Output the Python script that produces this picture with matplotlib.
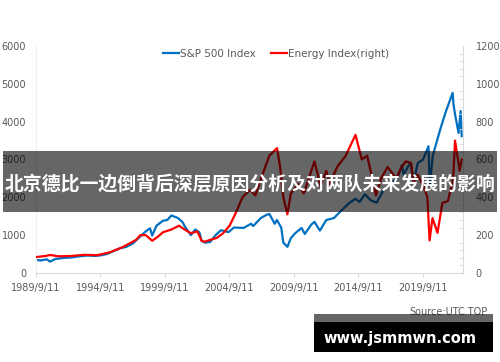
import pandas as pd
import matplotlib.pyplot as plt
from matplotlib.patches import Rectangle
from matplotlib.ticker import MultipleLocator

# S&P 500 (left axis)
spx_dates = ["1989-09-11", "1990-01-15", "1990-07-15", "1990-10-15", "1991-03-15", "1991-12-15",
             "1992-06-15", "1993-01-15", "1993-09-15", "1994-04-15", "1994-09-15", "1995-03-15",
             "1995-09-15", "1996-03-15", "1996-09-15", "1997-03-15", "1997-09-15", "1998-03-15",
             "1998-07-15", "1998-09-15", "1999-01-15", "1999-07-15", "1999-11-15", "2000-03-15",
             "2000-09-15", "2001-01-15", "2001-04-15", "2001-09-15", "2002-01-15", "2002-05-15",
             "2002-07-15", "2002-10-15", "2003-03-15", "2003-08-15", "2004-01-15", "2004-08-15",
             "2005-01-15", "2005-10-15", "2006-05-15", "2006-07-15", "2007-02-15", "2007-07-15",
             "2007-10-15", "2008-03-15", "2008-05-15", "2008-09-15", "2008-11-15", "2009-03-09",
             "2009-06-15", "2009-10-15", "2010-04-15", "2010-07-15", "2011-01-15", "2011-04-15",
             "2011-09-15", "2012-03-15", "2012-10-15", "2013-05-15", "2013-12-15", "2014-06-15",
             "2014-10-15", "2015-03-15", "2015-08-25", "2016-02-10", "2016-08-15", "2017-02-15",
             "2017-09-15", "2018-01-25", "2018-03-15", "2018-09-20", "2018-12-24", "2019-04-15",
             "2019-09-15", "2020-02-15", "2020-03-23", "2020-06-15", "2020-09-15", "2021-01-15",
             "2021-06-15", "2021-12-30", "2022-01-25", "2022-03-08", "2022-06-16", "2022-08-15",
             "2022-09-12"]
spx_vals = [345, 330, 360, 300, 370, 400,
            410, 440, 460, 450, 465, 500,
            580, 650, 690, 780, 940, 1100,
            1180, 990, 1250, 1380, 1400, 1520,
            1450, 1350, 1200, 1000, 1150, 1070,
            850, 800, 820, 1000, 1130, 1080,
            1200, 1190, 1300, 1240, 1450, 1530,
            1560, 1300, 1400, 1200, 800, 690,
            920, 1050, 1190, 1030, 1280, 1350,
            1120, 1400, 1450, 1650, 1840, 1960,
            1880, 2080, 1920, 1860, 2180, 2350,
            2500, 2850, 2600, 2920, 2400, 2900,
            3000, 3350, 2300, 3100, 3400, 3800,
            4250, 4760, 4450, 4200, 3700, 4280,
            3620]

# Energy index (right axis)
eng_dates = ["1989-09-11", "1990-06-15", "1990-10-15", "1991-06-15", "1992-06-15", "1993-06-15",
             "1994-06-15", "1995-06-15", "1996-06-15", "1997-06-15", "1997-10-15", "1998-03-15",
             "1998-09-15", "1999-03-15", "1999-07-15", "2000-03-15", "2000-10-15", "2001-03-15",
             "2001-09-15", "2002-03-15", "2002-07-15", "2002-10-15", "2003-03-15", "2003-09-15",
             "2004-03-15", "2004-09-15", "2005-03-15", "2005-09-15", "2006-04-15", "2006-09-15",
             "2007-03-15", "2007-10-15", "2008-05-20", "2008-08-15", "2008-11-15", "2009-03-09",
             "2009-06-15", "2010-01-15", "2010-06-15", "2011-04-15", "2011-10-04", "2012-03-15",
             "2012-06-15", "2013-01-15", "2013-09-15", "2014-06-20", "2014-12-15", "2015-05-15",
             "2015-09-15", "2016-01-20", "2016-06-15", "2016-12-15", "2017-08-15", "2018-01-15",
             "2018-05-15", "2018-10-15", "2018-12-24", "2019-04-15", "2019-10-15", "2020-01-15",
             "2020-03-18", "2020-06-08", "2020-10-28", "2021-03-15", "2021-08-20", "2022-01-15",
             "2022-03-08", "2022-06-08", "2022-07-15", "2022-09-12"]
eng_vals = [84, 90, 95, 88, 90, 96,
            94, 110, 138, 175, 200, 200,
            170, 195, 215, 230, 250, 230,
            210, 220, 170, 165, 175, 185,
            210, 250, 320, 400, 440, 410,
            510, 620, 660, 560, 400, 310,
            420, 470, 420, 590, 460, 540,
            470, 560, 620, 730, 600, 620,
            520, 410, 500, 560, 500, 560,
            590, 580, 470, 520, 450, 400,
            172, 290, 212, 370, 380, 500,
            700, 590, 540, 600]

tick_years = ["1989/9/11", "1994/9/11", "1999/9/11", "2004/9/11", "2009/9/11", "2014/9/11", "2019/9/11"]

title_cn = "北京德比一边倒背后深层原因分析及对两队未来发展的影响"
site = "www.jsmmwn.com"

grey = "#595959"
line_grey = "#D9D9D9"

fig = plt.figure(figsize=(5, 3.62), dpi=100)
ax = fig.add_axes([0.072, 0.246, 0.854, 0.627])
ax2 = ax.twinx()

l1, = ax.plot(pd.to_datetime(spx_dates), spx_vals, color="#0070C0", lw=1.6, label="S&P 500 Index")
l2, = ax2.plot(pd.to_datetime(eng_dates), eng_vals, color="#FF0000", lw=1.6, label="Energy Index(right)")
ax2.set_zorder(ax.get_zorder() + 1)

ax.set_xlim(pd.Timestamp("1989-09-11"), pd.Timestamp("2022-10-20"))
ax.set_ylim(0, 6000)
ax2.set_ylim(0, 1200)
ax.set_yticks(range(0, 6001, 1000))
ax2.set_yticks(range(0, 1201, 200))
ax2.yaxis.set_minor_locator(MultipleLocator(40))

ticks = pd.to_datetime([t.replace("/", "-") for t in tick_years])
ax.set_xticks(ticks)
ax.set_xticklabels(tick_years)

for a in (ax, ax2):
    for s in a.spines.values():
        s.set_visible(False)
ax.spines["bottom"].set_visible(True)
ax.spines["bottom"].set_color(line_grey)
ax.spines["left"].set_visible(True)
ax.spines["left"].set_color("#F0F0F0")
ax2.spines["right"].set_visible(True)
ax2.spines["right"].set_color(line_grey)

ax.tick_params(axis="x", colors=line_grey, labelcolor=grey, labelsize=7, length=3, pad=4)
ax.tick_params(axis="y", labelcolor=grey, labelsize=7, length=0, pad=7)
ax2.tick_params(axis="y", which="major", labelcolor=grey, labelsize=7, length=0, pad=9)
ax2.tick_params(axis="y", which="minor", direction="in", colors=line_grey, length=3)

fig.legend(handles=[l1, l2], loc="center", bbox_to_anchor=(0.552, 0.851), ncol=2, frameon=False,
           fontsize=7.5, labelcolor=grey, handlelength=1.6, handletextpad=0.1, columnspacing=1.4)

# overlay banner
fig.add_artist(Rectangle((0.006, 0.414), 0.988, 0.1685, transform=fig.transFigure,
                         facecolor="black", alpha=0.6, edgecolor="none", zorder=5))
fig.text(0.5, 0.492, title_cn, color="white", fontsize=13.6, fontweight="bold",
         family=["Noto Sans CJK SC", "DejaVu Sans"], ha="center", va="center", zorder=6)

fig.text(0.976, 0.138, "Source:UTC.TOP", color=grey, fontsize=7, ha="right", va="center")
fig.add_artist(Rectangle((0.628, 0.11), 0.358, 0.022, transform=fig.transFigure,
                         facecolor="black", alpha=0.6, edgecolor="none", zorder=5))
fig.add_artist(Rectangle((0.628, 0.028), 0.358, 0.083, transform=fig.transFigure,
                         facecolor="black", edgecolor="none", zorder=5))
fig.text(0.8, 0.066, site, color="white", fontsize=10.5, fontweight="bold",
         ha="center", va="center", zorder=6)

fig.savefig("out.png", dpi=100)
